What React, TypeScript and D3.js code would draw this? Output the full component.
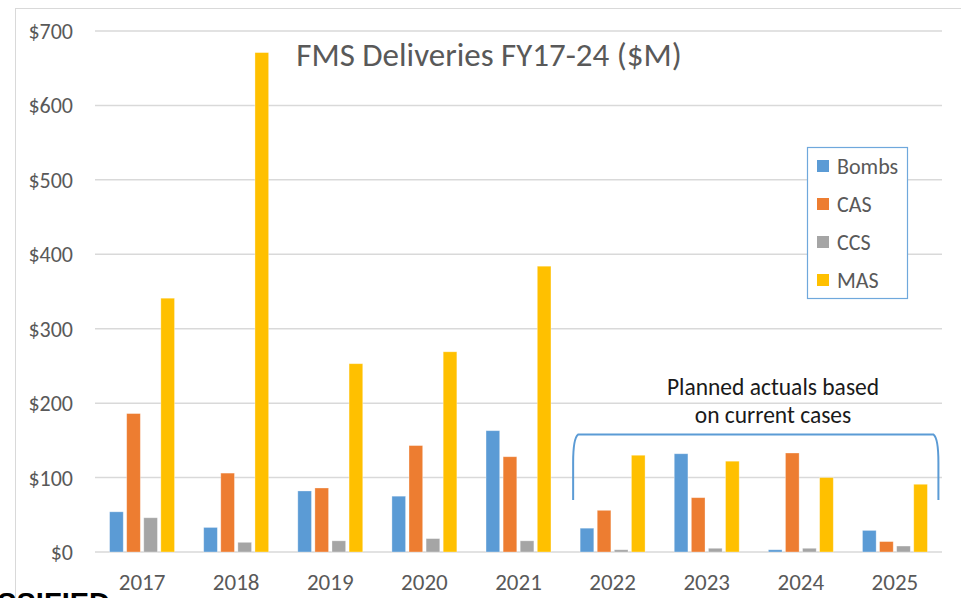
import React, { useEffect, useRef } from 'react'
import * as d3 from 'd3'

const years = ['2017', '2018', '2019', '2020', '2021', '2022', '2023', '2024', '2025']
const seriesNames = ['Bombs', 'CAS', 'CCS', 'MAS']
const seriesColors = ['#5B9BD5', '#ED7D31', '#A5A5A5', '#FFC000']

const bombs = [54, 33, 82, 75, 163, 32, 132, 3, 29]
const cas = [186, 106, 86, 143, 128, 56, 73, 133, 14]
const ccs = [46, 13, 15, 18, 15, 3, 5, 5, 8]
const mas = [341, 671, 253, 269, 384, 130, 122, 100, 91]

const yTicks = [0, 100, 200, 300, 400, 500, 600, 700]
const bracketYears = ['2022', '2025']

const font = "Carlito, Lato, 'Open Sans', sans-serif"

export default function App() {
	const ref = useRef<SVGSVGElement>(null)

	useEffect(() => {
		const svg = d3.select(ref.current)
		svg.selectAll('*').remove()

		const values = [bombs, cas, ccs, mas]
		const left = 95
		const right = 942
		const y = d3.scaleLinear().domain([0, 700]).range([552, 31])
		const x = d3.scaleBand().domain(years).range([left, right]).paddingInner(0.31).paddingOuter(0.155)
		const xs = d3.scaleBand().domain(seriesNames).range([0, x.bandwidth()]).paddingInner(0.2)

		// chart area frame
		svg.append('line').attr('x1', 15).attr('x2', 961).attr('y1', 8.5).attr('y2', 8.5)
			.attr('stroke', '#d9d9d9').attr('stroke-width', 1)
		svg.append('line').attr('x1', 15.5).attr('x2', 15.5).attr('y1', 8).attr('y2', 598)
			.attr('stroke', '#d9d9d9').attr('stroke-width', 1)

		// grid
		svg.append('g').selectAll('line').data(yTicks).enter().append('line')
			.attr('x1', left).attr('x2', right)
			.attr('y1', (d) => y(d)).attr('y2', (d) => y(d))
			.attr('stroke', '#d9d9d9').attr('stroke-width', 1.5)

		svg.append('g').selectAll('text').data(yTicks).enter().append('text')
			.attr('x', 73).attr('y', (d) => y(d) + 8)
			.attr('text-anchor', 'end')
			.attr('font-family', font).attr('font-size', 22).attr('fill', '#595959')
			.text((d) => `$${d}`)

		svg.append('g').selectAll('text').data(years).enter().append('text')
			.attr('x', (d) => (x(d) as number) + x.bandwidth() / 2).attr('y', 590)
			.attr('text-anchor', 'middle')
			.attr('font-family', font).attr('font-size', 23).attr('fill', '#595959')
			.text((d) => d)

		// bars
		const groups = svg.append('g').selectAll('g').data(years).enter().append('g')
			.attr('transform', (d) => `translate(${x(d)},0)`)

		groups.selectAll('rect')
			.data((d, i) => seriesNames.map((s, k) => ({ s, k, v: values[k][i] })))
			.enter().append('rect')
			.attr('x', (d) => xs(d.s) as number)
			.attr('width', xs.bandwidth())
			.attr('y', (d) => y(d.v))
			.attr('height', (d) => y(0) - y(d.v))
			.attr('fill', (d) => seriesColors[d.k])
			.attr('stroke', '#ffffff').attr('stroke-opacity', 0.4).attr('stroke-width', 0.8)

		// title
		svg.append('text').attr('x', 489).attr('y', 66).attr('text-anchor', 'middle')
			.attr('font-family', font).attr('font-size', 33).attr('fill', '#595959')
			.text('FMS Deliveries FY17-24 ($M)')

		// legend
		const lg = svg.append('g')
		lg.append('rect').attr('x', 807.5).attr('y', 147.5).attr('width', 100).attr('height', 151)
			.attr('fill', '#ffffff').attr('stroke', '#6FA8DC').attr('stroke-width', 1.2)
		seriesNames.forEach((s, i) => {
			const cy = 166 + i * 38
			lg.append('rect').attr('x', 817).attr('y', cy - 6).attr('width', 12).attr('height', 12)
				.attr('fill', seriesColors[i])
			lg.append('text').attr('x', 837).attr('y', cy + 7.5)
				.attr('font-family', font).attr('font-size', 22).attr('fill', '#595959')
				.text(s)
		})

		// bracket over the planned years
		const bx0 = (x(bracketYears[0]) as number) - 7
		const bx1 = (x(bracketYears[1]) as number) + x.bandwidth() + 11
		const top = 434.5
		const bot = 500
		const path = d3.path()
		path.moveTo(bx0, bot)
		path.lineTo(bx0, top + 28)
		path.bezierCurveTo(bx0, top + 12, bx0 + 1, top + 3, bx0 + 5, top)
		path.lineTo(bx1 - 5, top)
		path.bezierCurveTo(bx1 - 1, top + 3, bx1, top + 12, bx1, top + 28)
		path.lineTo(bx1, bot)
		svg.append('path').attr('d', path.toString())
			.attr('fill', 'none').attr('stroke', '#5B9BD5').attr('stroke-width', 2)

		svg.append('text').attr('x', 773).attr('y', 395).attr('text-anchor', 'middle')
			.attr('font-family', font).attr('font-size', 23.5).attr('fill', '#1a1a1a')
			.text('Planned actuals based')
		svg.append('text').attr('x', 773).attr('y', 423).attr('text-anchor', 'middle')
			.attr('font-family', font).attr('font-size', 23.5).attr('fill', '#1a1a1a')
			.text('on current cases')

		// classification marking, cut off at page edge as in the source slide
		svg.append('text').attr('x', 110).attr('y', 613).attr('text-anchor', 'end')
			.attr('font-family', "'Liberation Sans', Arial, sans-serif").attr('font-weight', 'bold')
			.attr('font-size', 29).attr('fill', '#000000')
			.text('UNCLASSIFIED')
	}, [])

	return (
		<svg
			ref={ref}
			width={961}
			height={598}
			style={{ position: 'absolute', left: 0, top: 0, background: '#ffffff' }}
		/>
	)
}
